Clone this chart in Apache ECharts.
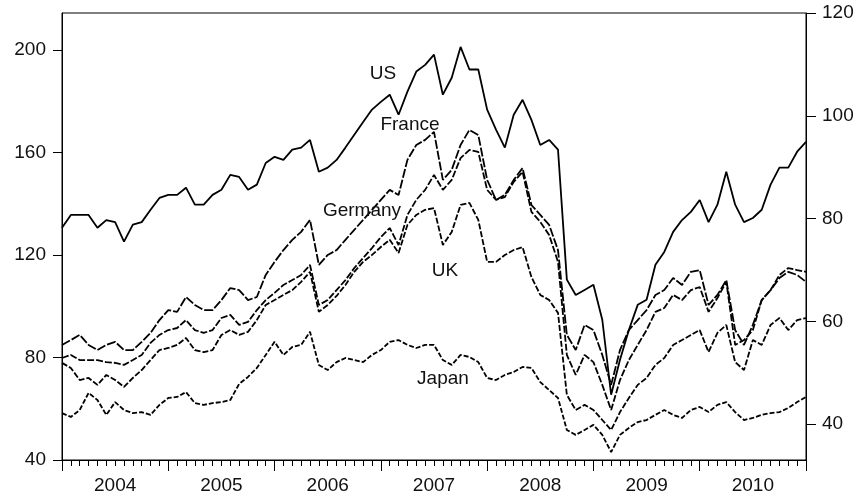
<!DOCTYPE html>
<html>

<head>
    <meta http-equiv="Content-Type" content="text/html; charset=utf-8" />
    <title>stock indices 2004-2010</title>
    <style type="text/css">
    body,
    html {
        width: 100%;
        height: 100%;
        margin: 0;
        overflow: hidden;
        background-color: #fff;
    }

    #container {
        width: 860px;
        height: 502px;
    }
    </style>
</head>

<body>
    <div id="container"></div>
</body>
<script src="https://cdn.jsdelivr.net/npm/echarts@6/dist/echarts.min.js"></script>
<script>
// month starts, Jan 2004 .. Jan 2011
var months = [];
for (var y = 2004; y <= 2010; y++) {
    for (var m = 1; m <= 12; m++) months.push(y + '-' + (m < 10 ? '0' + m : m));
}
months.push('2011-01');

var yearLabels = [2004, 2005, 2006, 2007, 2008, 2009, 2010];
var leftTicks = [40, 80, 120, 160, 200];
var rightTicks = [40, 60, 80, 100, 120];

// US on the right scale, the others on the left scale
var us = [78.2, 80.7, 80.7, 80.7, 78.2, 79.7, 79.3, 75.5, 78.8, 79.3, 81.7, 84.0,
    84.6, 84.6, 86.0, 82.7, 82.7, 84.6, 85.6, 88.5, 88.1, 85.6, 86.6, 90.8,
    92.0, 91.4, 93.4, 93.8, 95.3, 89.1, 89.9, 91.4, 93.8, 96.3, 98.8, 101.2,
    102.7, 104.1, 100.2, 104.7, 108.6, 109.9, 111.9, 104.1, 107.4, 113.4, 109.0, 109.0,
    101.2, 97.3, 93.8, 100.2, 103.1, 99.2, 94.3, 95.3, 93.4, 68.1, 65.1, 66.1,
    67.1, 60.3, 45.7, 52.5, 58.3, 63.2, 64.2, 71.0, 73.5, 77.4, 79.7, 81.3,
    83.6, 79.3, 82.7, 89.1, 82.7, 79.3, 80.1, 81.7, 86.6, 89.9, 89.9, 93.0,
    94.9];

var france = [84.9, 86.8, 88.8, 84.9, 82.9, 84.9, 86.1, 82.9, 82.9, 86.1, 89.6, 94.6,
    98.5, 97.8, 103.6, 100.5, 98.5, 98.5, 102.4, 107.1, 106.3, 102.4, 103.6, 112.2,
    117.3, 121.9, 125.9, 129.0, 133.7, 116.1, 120.0, 121.9, 125.9, 129.8, 133.7, 137.6,
    141.5, 145.4, 143.4, 157.1, 162.9, 164.9, 168.0, 149.3, 153.2, 162.9, 168.8, 166.8,
    149.3, 141.5, 143.4, 149.3, 153.9, 139.5, 135.6, 131.7, 121.9, 88.8, 82.9, 92.7,
    90.7, 81.0, 69.3, 82.9, 90.7, 94.6, 98.5, 104.4, 106.3, 111.0, 108.3, 113.4,
    114.1, 100.5, 104.4, 110.2, 90.7, 84.9, 92.7, 102.4, 106.3, 111.0, 113.4, 112.2,
    109.5];

var germany = [79.8, 81.0, 79.0, 79.0, 79.0, 78.2, 77.9, 77.1, 79.0, 81.0, 85.7, 88.8,
    90.7, 91.5, 94.6, 90.7, 89.6, 90.7, 95.4, 96.6, 92.7, 93.9, 98.5, 102.4,
    105.2, 108.3, 110.2, 112.2, 116.1, 100.5, 102.4, 106.3, 110.2, 114.9, 118.8, 122.7,
    127.0, 130.5, 123.9, 135.6, 141.5, 145.4, 151.2, 145.4, 149.3, 157.8, 161.0, 160.2,
    145.4, 141.5, 142.6, 148.5, 152.4, 136.8, 132.9, 127.8, 117.3, 81.0, 73.2, 81.0,
    78.2, 69.3, 59.5, 71.2, 79.0, 84.9, 90.7, 97.8, 99.3, 104.4, 102.4, 106.3,
    107.5, 97.8, 103.2, 109.5, 84.9, 86.8, 90.7, 102.4, 106.3, 112.2, 114.9, 114.1,
    113.4];

var uk = [77.9, 75.9, 71.2, 72.0, 69.3, 73.2, 71.2, 68.5, 72.0, 75.1, 79.0, 82.9,
    83.7, 84.9, 87.6, 82.9, 82.1, 82.9, 88.8, 90.7, 88.8, 90.0, 94.6, 100.5,
    102.4, 104.4, 106.3, 109.5, 113.4, 97.8, 100.5, 104.0, 108.3, 113.4, 117.3, 120.0,
    123.1, 125.9, 120.8, 131.7, 135.6, 137.6, 138.3, 123.9, 129.0, 139.5, 140.3, 133.7,
    117.3, 117.3, 120.0, 121.9, 123.1, 111.4, 104.4, 102.4, 97.4, 65.4, 59.5, 61.5,
    59.5, 55.6, 51.7, 58.7, 64.2, 69.3, 72.0, 77.1, 79.8, 84.9, 86.8, 88.8,
    90.7, 82.1, 89.6, 92.7, 78.2, 75.1, 86.8, 84.9, 92.7, 95.4, 90.7, 94.6,
    95.4];

var japan = [58.3, 56.8, 59.5, 66.2, 63.4, 57.6, 62.6, 59.5, 58.3, 58.7, 57.6, 61.5,
    64.2, 64.6, 66.5, 62.2, 61.5, 62.2, 62.6, 63.4, 69.7, 72.4, 75.9, 81.0,
    86.1, 81.0, 84.1, 84.9, 90.0, 77.1, 75.1, 78.2, 79.8, 79.0, 78.2, 81.0,
    82.9, 86.1, 86.8, 84.9, 83.7, 84.9, 84.9, 79.0, 77.1, 81.0, 80.2, 78.2,
    72.0, 71.2, 73.2, 74.3, 76.3, 75.9, 70.4, 67.3, 64.2, 51.7, 49.8, 51.7,
    53.7, 49.8, 43.1, 49.8, 52.5, 54.8, 55.6, 57.6, 59.5, 57.6, 56.4, 59.5,
    60.7, 58.7, 61.5, 62.6, 58.7, 55.6, 56.4, 57.6, 58.3, 58.7, 60.3, 62.6,
    64.6];

function toYear(s) {
    var p = s.split('-');
    return +p[0] + (+p[1] - 1) / 12;
}

function pairs(vals) {
    return months.map(function(s, i) { return [toYear(s), vals[i]]; });
}

var txt = { color: '#111', fontSize: 19, fontFamily: 'Liberation Sans, Arial, sans-serif' };

function lineSeries(name, vals, axis, dash) {
    return {
        name: name,
        type: 'line',
        yAxisIndex: axis,
        data: pairs(vals),
        symbol: 'none',
        lineStyle: { color: '#000', width: 1.8, type: dash },
        z: 3
    };
}

// series names written on the plot, centred on (x, y)
function tag(text, x, y) {
    return {
        type: 'text',
        x: x,
        y: y,
        z: 10,
        style: {
            text: text,
            fill: '#111',
            font: '19px "Liberation Sans", Arial, sans-serif',
            align: 'center',
            verticalAlign: 'middle'
        }
    };
}

var chartDom = document.getElementById('container');
var myChart = echarts.init(chartDom, null, { renderer: 'canvas' });

var option = {
    animation: false,
    backgroundColor: '#fff',
    grid: {
        left: 62,
        right: 54,
        top: 13,
        bottom: 42,
        show: true,
        borderColor: '#000',
        borderWidth: 1
    },
    xAxis: {
        type: 'value',
        min: 2004,
        max: 2011,
        interval: 1,
        axisLine: { lineStyle: { color: '#000' } },
        axisTick: { length: 11, lineStyle: { color: '#000' } },
        minorTick: { show: true, splitNumber: 12, length: 6, lineStyle: { color: '#000' } },
        splitLine: { show: false },
        axisLabel: {
            customValues: yearLabels.map(function(v) { return v + 0.5; }),
            formatter: function(v) { return String(Math.floor(v)); },
            margin: 16,
            color: txt.color,
            fontSize: txt.fontSize,
            fontFamily: txt.fontFamily
        }
    },
    yAxis: [{
        type: 'value',
        position: 'left',
        min: 40,
        max: 214.4,
        axisLine: { show: true, lineStyle: { color: '#000' } },
        axisTick: { show: true, customValues: leftTicks, length: 9, lineStyle: { color: '#000' } },
        splitLine: { show: false },
        axisLabel: {
            customValues: leftTicks,
            margin: 16,
            color: txt.color,
            fontSize: txt.fontSize,
            fontFamily: txt.fontFamily
        }
    }, {
        type: 'value',
        position: 'right',
        min: 33,
        max: 120,
        axisLine: { show: true, lineStyle: { color: '#000' } },
        axisTick: { show: true, customValues: rightTicks, length: 10, lineStyle: { color: '#000' } },
        splitLine: { show: false },
        axisLabel: {
            customValues: rightTicks,
            margin: 16,
            color: txt.color,
            fontSize: txt.fontSize,
            fontFamily: txt.fontFamily
        }
    }],
    series: [
        lineSeries('US', us, 1, 'solid'),
        lineSeries('France', france, 0, [9, 2]),
        lineSeries('Germany', germany, 0, [7, 2]),
        lineSeries('UK', uk, 0, [6, 2]),
        lineSeries('Japan', japan, 0, [5, 2])
    ],
    graphic: [
        tag('US', 383, 74),
        tag('France', 410, 125),
        tag('Germany', 362, 211),
        tag('UK', 445, 271),
        tag('Japan', 443, 379)
    ]
};

option && myChart.setOption(option);
</script>

</html>
